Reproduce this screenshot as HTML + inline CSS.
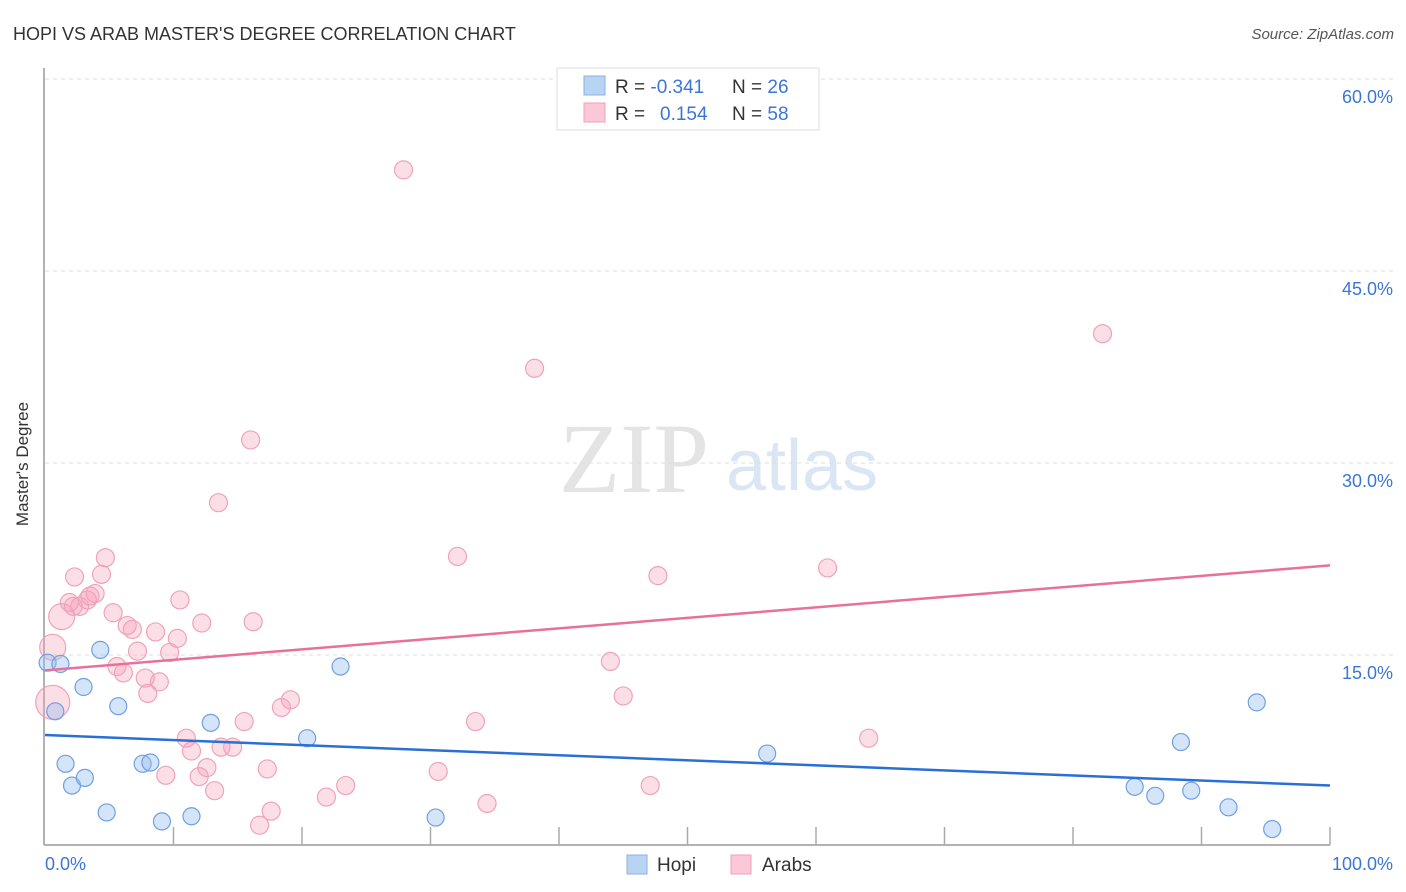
<!DOCTYPE html>
<html><head><meta charset="utf-8"><style>
body{margin:0;background:#fff;font-family:"Liberation Sans",sans-serif;}
svg{display:block}
</style></head><body>
<svg id="c" width="1406" height="892" xmlns="http://www.w3.org/2000/svg">
<text x="13" y="40" font-size="18" fill="#333">HOPI VS ARAB MASTER'S DEGREE CORRELATION CHART</text>
<text x="1394" y="39" font-size="15" font-style="italic" fill="#555" text-anchor="end">Source: ZipAtlas.com</text>
<text x="634" y="492" font-size="100" font-family="Liberation Serif,serif" fill="#e4e4e4" text-anchor="middle">ZIP</text>
<text x="802" y="490" font-size="72" fill="#dbe6f5" text-anchor="middle">atlas</text>
<g id="grid"></g>
<line x1="44" y1="68" x2="44" y2="845" stroke="#999" stroke-width="1.5"/>
<line x1="44" y1="845" x2="1330" y2="845" stroke="#999" stroke-width="1.5"/>
<g id="xt"></g>
<text x="20" y="456" font-size="17" fill="#333" text-anchor="middle" transform="rotate(-90 28 456)">Master's Degree</text>
<text x="45" y="870" font-size="18" fill="#3b76d6">0.0%</text>
<text x="1393" y="870" font-size="18" fill="#3b76d6" text-anchor="end">100.0%</text>
<g id="pts"></g>
<g id="lines"></g>
<g>
<rect x="557" y="68" width="262" height="62" fill="#fff" stroke="#ddd"/>
<rect x="584" y="76" width="21" height="19" fill="#b9d3f3" stroke="#8ab0e6"/>
<rect x="584" y="103" width="21" height="19" fill="#fac8d6" stroke="#f0a1b9"/>
<text x="615" y="93" font-size="19" fill="#333">R = <tspan fill="#3b76d6">-0.341</tspan><tspan x="732">N = </tspan><tspan fill="#3b76d6">26</tspan></text>
<text x="615" y="120" font-size="19" fill="#333">R = <tspan x="660" fill="#3b76d6">0.154</tspan><tspan x="732">N = </tspan><tspan fill="#3b76d6">58</tspan></text>
</g>
<g>
<rect x="627" y="855" width="20" height="19" fill="#b9d3f3" stroke="#8ab0e6"/>
<text x="657" y="871" font-size="19" fill="#333">Hopi</text>
<rect x="731" y="855" width="20" height="19" fill="#fac8d6" stroke="#f0a1b9"/>
<text x="762" y="871" font-size="19" fill="#333">Arabs</text>
</g>
</svg>
<script>
const yTicks=[15,30,45,60];
const hopiX=[0.2,1.2,0.8,4.3,3.0,5.7,1.6,2.1,3.1,4.8,7.6,8.2,9.1,11.4,12.9,20.4,23.0,30.4,56.2,84.8,86.4,88.4,89.2,92.1,94.3,95.5];
const hopiY=[14.4,14.3,10.6,15.4,12.5,11.0,6.5,4.8,5.4,2.7,6.5,6.6,2.0,2.4,9.7,8.5,14.1,2.3,7.3,4.7,4.0,8.2,4.4,3.1,11.3,1.4];
const arabX=[4.7,2.3,4.4,1.3,1.9,2.7,3.3,3.9,5.3,6.4,6.8,8.6,10.5,12.2,16.2,10.3,9.7,7.2,0.6,5.6,6.1,7.8,8.9,8.0,0.6,15.5,11.0,11.4,13.7,14.6,19.1,18.4,9.4,12.6,12.0,13.2,17.3,23.4,21.9,17.6,16.7,27.9,38.1,16.0,13.5,32.1,47.7,60.9,82.3,44.0,45.0,33.5,30.6,34.4,47.1,64.1,2.2,3.5];
const arabY=[22.6,21.1,21.3,18.0,19.1,18.8,19.3,19.8,18.3,17.3,17.0,16.8,19.3,17.5,17.6,16.3,15.2,15.3,15.6,14.1,13.6,13.2,12.9,12.0,11.3,9.8,8.5,7.5,7.8,7.8,11.5,10.9,5.6,6.2,5.5,4.4,6.1,4.8,3.9,2.8,1.7,52.9,37.4,31.8,26.9,22.7,21.2,21.8,40.1,14.5,11.8,9.8,5.9,3.4,4.8,8.5,18.8,19.6];
const arabBig=[0,0,0,13,0,0,0,0,0,0,0,0,0,0,0,0,0,0,13,0,0,0,0,0,17];
const hopiTrend=[8.75,4.8];
const arabTrend=[13.8,22.0];
const xs=v=>45+v*12.85, ys=v=>847-v*12.8;
const NS='http://www.w3.org/2000/svg';
function mk(t,a,p){const e=document.createElementNS(NS,t);for(const k in a)e.setAttribute(k,a[k]);p.appendChild(e);return e;}
const g=document.getElementById('grid');
yTicks.forEach(t=>{
 const l=mk('line',{x1:45,x2:1393,y1:ys(t),y2:ys(t),stroke:'#ddd','stroke-dasharray':'4,4'},g);
 
 
 const tx=mk('text',{x:1393,y:ys(t)+24,'font-size':18,fill:'#3b76d6','text-anchor':'end'},g);
 tx.textContent=t.toFixed(1)+'%';
 
 
});
const xt=document.getElementById('xt');
for(let i=1;i<=10;i++){
 const l=mk('line',{x1:xs(i*10),x2:xs(i*10),y1:827,y2:845,stroke:'#aaa','stroke-width':1.5},xt);
 
 
}
const pts=document.getElementById('pts');
arabX.forEach((x,i)=>{
 const c=mk('circle',{cx:xs(x),cy:ys(arabY[i]),r:arabBig[i]||9,fill:'rgba(245,160,185,0.35)',stroke:'#eea3b9','stroke-width':1.2},pts);
 
 
});
hopiX.forEach((x,i)=>{
 const c=mk('circle',{cx:xs(x),cy:ys(hopiY[i]),r:8.5,fill:'rgba(150,190,240,0.4)',stroke:'#6fa0e0','stroke-width':1.2},pts);
 
 
});
const ln=document.getElementById('lines');
const a=mk('line',{x1:xs(0),x2:xs(100),y1:ys(arabTrend[0]),y2:ys(arabTrend[1]),stroke:'#e8709a','stroke-width':2.5},ln);


const h=mk('line',{x1:xs(0),x2:xs(100),y1:ys(hopiTrend[0]),y2:ys(hopiTrend[1]),stroke:'#2a6fd6','stroke-width':2.5},ln);


</script>
</body></html>
